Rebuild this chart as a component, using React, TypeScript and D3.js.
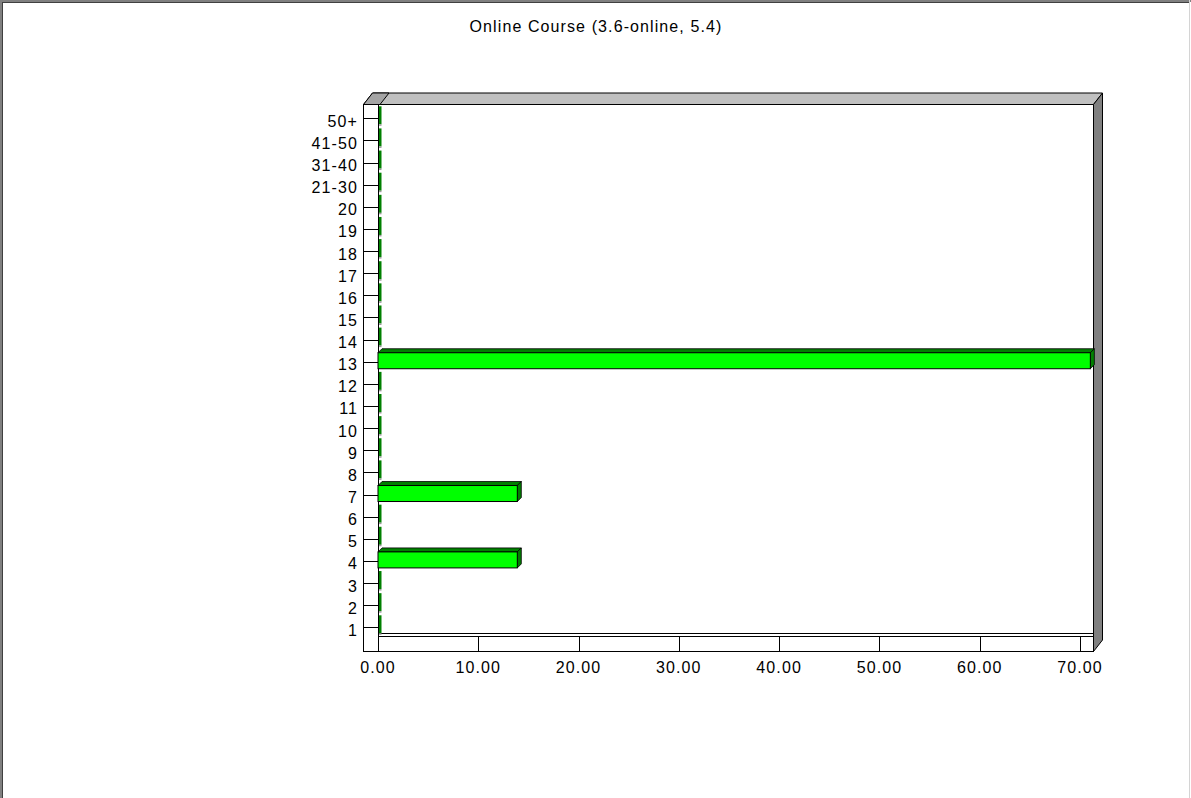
import React from "react";
import * as d3 from "d3";

const title = "Online Course (3.6-online, 5.4)";
const categories = ["1","2","3","4","5","6","7","8","9","10","11","12","13","14","15","16","17","18","19","20","21-30","31-40","41-50","50+"];
const percentages = [0,0,0,14.29,0,0,14.29,0,0,0,0,0,71.43,0,0,0,0,0,0,0,0,0,0,0];
const xTicks = [0,10,20,30,40,50,60,70];

const W = 1191, H = 798;
const FONT = "'Liberation Sans', Arial, sans-serif";

export default function App() {
  const x = d3.scaleLinear().domain([0, 70]).range([378, 1080]);
  const y = d3.scalePoint<string>().domain(categories).range([627.3, 118.3]);

  const wallLeft = 363.5;
  const plotLeft = 378.5;
  const plotRight = 1093.5;
  const plotTop = 104.5;
  const plotBottom = 633.5;
  const floorTop = 636.5;
  const floorBottom = 651.5;
  const dx = 9, dy = 11.5;
  const bd = 4; // bar depth

  const pts = (a: number[][]) => a.map(p => p.join(",")).join(" ");

  return (
    <svg width={W} height={H} style={{ position: "absolute", left: 0, top: 0, display: "block", background: "#fff" }}>
      {/* frame */}
      <rect x={0} y={0} width={W} height={H} fill="#fff" />
      <line x1={1} y1={0} x2={1} y2={H} stroke="#808080" strokeWidth={2} />
      <line x1={0} y1={1} x2={W} y2={1} stroke="#808080" strokeWidth={2} />
      <line x1={2.5} y1={2} x2={2.5} y2={H} stroke="#404040" strokeWidth={1} />
      <line x1={2} y1={2.5} x2={W - 2} y2={2.5} stroke="#404040" strokeWidth={1} />
      <line x1={1189.5} y1={0} x2={1189.5} y2={H} stroke="#d4d4d4" strokeWidth={1} />

      {/* title */}
      <text x={596} y={32} textAnchor="middle" fontFamily={FONT} fontSize={16} letterSpacing={1.1} fill="#000">{title}</text>

      {/* back wall */}
      <rect x={plotLeft} y={plotTop} width={plotRight - plotLeft} height={plotBottom - plotTop} fill="#fff" stroke="#000" />

      {/* top band */}
      <polygon points={pts([[wallLeft, plotTop], [plotRight, plotTop], [plotRight + dx, plotTop - dy], [wallLeft + dx, plotTop - dy]])} fill="#c0c0c0" stroke="#000" strokeLinejoin="round" />
      <polygon points={pts([[wallLeft, plotTop], [plotLeft + 1.5, plotTop], [plotLeft + 1.5 + dx, plotTop - dy], [wallLeft + dx, plotTop - dy]])} fill="#a4a4a4" stroke="#000" strokeLinejoin="round" />

      {/* right wall */}
      <polygon points={pts([[plotRight, plotTop], [plotRight + dx, plotTop - dy], [plotRight + dx, floorBottom - dy], [plotRight, floorBottom]])} fill="#808080" stroke="#000" strokeLinejoin="round" />

      {/* floor */}
      <rect x={wallLeft} y={floorTop} width={plotRight - wallLeft} height={floorBottom - floorTop} fill="#fff" stroke="#000" />
      <line x1={plotLeft} y1={plotBottom} x2={plotRight} y2={plotBottom} stroke="#000" />
      {xTicks.map(t => (
        <line key={"tk" + t} x1={Math.round(x(t)) + 0.5} y1={floorTop} x2={Math.round(x(t)) + 0.5} y2={floorBottom} stroke="#000" />
      ))}

      {/* left wall */}
      <rect x={wallLeft} y={plotTop} width={plotLeft - wallLeft} height={floorBottom - plotTop} fill="#fff" stroke="#000" />
      {categories.map(c => (
        <line key={"wl" + c} x1={wallLeft} x2={plotLeft} y1={Math.round(y(c)!) + 0.5} y2={Math.round(y(c)!) + 0.5} stroke="#000" />
      ))}

      {/* bars */}
      {categories.map((c, i) => {
        const cy = y(c)!;
        const x0 = plotLeft - 0.5;
        const t = cy - 9, b = cy + 7;
        if (percentages[i] <= 0) {
          return (
            <g key={"bar" + c}>
              <rect x={x0 + 1} y={t - bd + 1} width={2.5} height={b - t + bd - 2} fill="#008000" />
              <rect x={x0 + 1} y={b - 1} width={2.5} height={1.5} fill="#9a9a9a" />
            </g>
          );
        }
        const x1 = x(percentages[i]) - bd;
        return (
          <g key={"bar" + c}>
            <polygon points={pts([[x0, t], [x1, t], [x1 + bd, t - bd], [x0 + bd, t - bd]])} fill="#008000" stroke="#000" strokeWidth={0.8} />
            <polygon points={pts([[x1, t], [x1 + bd, t - bd], [x1 + bd, b - bd], [x1, b]])} fill="#008000" stroke="#000" strokeWidth={0.8} />
            <rect x={x0} y={t} width={x1 - x0} height={b - t} fill="#00ff00" stroke="#000" strokeWidth={1} />
          </g>
        );
      })}

      {/* y labels */}
      {categories.map(c => (
        <text key={"yl" + c} x={358} y={y(c)! + 8.5} textAnchor="end" fontFamily={FONT} fontSize={16} letterSpacing={1.1} fill="#000">{c}</text>
      ))}

      {/* x labels */}
      {xTicks.map(t => (
        <text key={"xl" + t} x={x(t)} y={673} textAnchor="middle" fontFamily={FONT} fontSize={16} letterSpacing={1.1} fill="#000">{d3.format(".2f")(t)}</text>
      ))}
    </svg>
  );
}
